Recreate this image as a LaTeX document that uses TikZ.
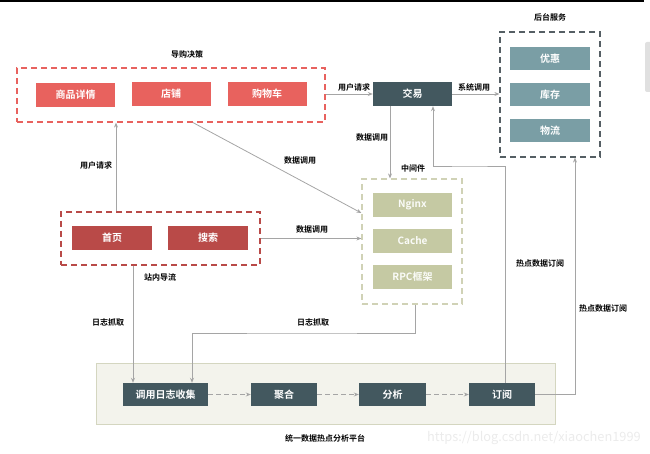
\documentclass[tikz,border=0pt]{standalone}
\usepackage{fontspec}
\setmainfont{Noto Sans CJK SC}[BoldFont={Noto Sans CJK SC Bold}]
\usepackage{tikz}
\usetikzlibrary{arrows.meta}

\definecolor{redlight}{RGB}{232,98,94}
\definecolor{reddark}{RGB}{185,74,72}
\definecolor{slate}{RGB}{67,88,95}
\definecolor{teal}{RGB}{122,158,165}
\definecolor{framegray}{RGB}{85,95,100}
\definecolor{olive}{RGB}{197,201,163}
\definecolor{oliveline}{RGB}{208,210,182}
\definecolor{platfill}{RGB}{243,243,236}
\definecolor{platline}{RGB}{212,214,192}
\definecolor{arrowgray}{RGB}{165,165,165}

\begin{document}
\begin{tikzpicture}[x=1pt,y=-1pt,
        box/.style={minimum width=79pt,minimum height=24pt,inner sep=0pt,text=white,font=\fontsize{10}{10}\selectfont\bfseries},
        redbox/.style={box,fill=redlight},
        homebox/.style={box,fill=reddark},
        slatebox/.style={box,fill=slate},
        tealbox/.style={box,fill=teal,minimum width=80pt,minimum height=23pt},
        olivebox/.style={box,fill=olive,text=white!92!olive},
        platbox/.style={box,fill=slate,minimum height=23pt,minimum width=66pt},
        frame/.style={dashed,dash pattern=on 6pt off 4pt,line width=1.2pt,inner sep=0pt},
        lbl/.style={font=\fontsize{8}{8}\selectfont\bfseries},
        arr/.style={draw=arrowgray,line width=0.8pt,-{Stealth[length=5pt,width=4pt]}}]
        \useasboundingbox (0,0) rectangle (650,454);
        \fill[black] (0,0) rectangle (644,2.5);
        \fill[black!12,rounded corners=2pt] (645,42) rectangle (652,92);

        % groups
        \node[frame,draw=redlight,minimum width=308pt,minimum height=54pt] (guide) at (171,95) {};
        \node[frame,draw=reddark,minimum width=199pt,minimum height=53pt] (homeframe) at (160.5,238.5) {};
        \node[frame,draw=framegray,minimum width=100pt,minimum height=125pt] (backend) at (550,94.5) {};
        \node[frame,draw=oliveline,minimum width=100pt,minimum height=125pt] (mw) at (412,241.5) {};
        \node[draw=platline,fill=platfill,line width=1pt,minimum width=459pt,minimum height=61pt,inner sep=0pt] (plat) at (325.5,393.5) {};

        \node[lbl] (guidetitle) at (187,54) {导购决策};
        \node[lbl] (backtitle) at (550,17) {后台服务};
        \node[lbl] (mwtitle) at (413,168) {中间件};
        \node[lbl] (plattitle) at (325,438) {统一数据热点分析平台};

        % boxes
        \node[redbox] (detail) at (75.5,95) {商品详情};
        \node[redbox] (shop) at (171,94) {店铺};
        \node[redbox] (cart) at (267,94) {购物车};
        \node[slatebox] (trade) at (412.5,94) {交易};
        \node[tealbox] (coupon) at (550,58.5) {优惠};
        \node[tealbox] (stock) at (550,94.5) {库存};
        \node[tealbox] (logistics) at (550,130.5) {物流};
        \node[olivebox] (nginx) at (412.5,205) {Nginx};
        \node[olivebox] (cache) at (412.5,241) {Cache};
        \node[olivebox] (rpc) at (412.5,277) {RPC框架};
        \node[homebox,minimum width=80pt] (home) at (112,238) {首页};
        \node[homebox,minimum width=80pt] (search) at (208,238) {搜索};
        \node[platbox,minimum width=85pt] (collect) at (165.5,394.5) {调用日志收集};
        \node[platbox] (merge) at (284,394.5) {聚合};
        \node[platbox,minimum width=67pt] (analyse) at (392.5,394.5) {分析};
        \node[platbox] (subscribe) at (502,394.5) {订阅};

        % connectors
        \draw[arr] (guide.east |- trade.west) -- (trade.west);
        \node[lbl] (req1) at (354,87) {用户请求};
        \draw[arr] (trade.east) -- (trade.east -| backend.west);
        \node[lbl] (sys) at (474,87) {系统调用};
        \draw[arr] ([xshift=-22.5pt]trade.south) -- ([xshift=-22.5pt]trade.south |- mw.north);
        \node[lbl] (data1) at (372,137) {数据调用};
        \draw[arr] ([xshift=22pt]guide.south) -- ([yshift=28.5pt]mw.west);
        \node[lbl] (data2) at (300,160) {数据调用};
        \draw[arr] ([xshift=4pt]home.north |- homeframe.north) -- ([xshift=4pt]home.north |- guide.south);
        \node[lbl] (req2) at (96,165) {用户请求};
        \draw[arr] (homeframe.east) -- (homeframe.east -| mw.west);
        \node[lbl] (data3) at (312,229) {数据调用};
        \node[lbl] (flow) at (160,277) {站内导流};
        \draw[arr] ([xshift=-32.5pt]collect.north |- homeframe.south) -- ([xshift=-32.5pt]collect.north);
        \node[lbl] (log1) at (108,322) {日志抓取};
        \draw[arr] ([xshift=3pt]mw.south) |- (300,333) -| ([xshift=26.5pt]collect.north);
        \node[lbl] (log2) at (313,322) {日志抓取};
        \draw[arr,dashed,dash pattern=on 5pt off 3pt] (collect) -- (merge);
        \draw[arr,dashed,dash pattern=on 5pt off 3pt] (merge) -- (analyse);
        \draw[arr,dashed,dash pattern=on 5pt off 3pt] (analyse) -- (subscribe);
        \draw[arr] ([xshift=3.5pt]subscribe.north) |- (470,166) -| ([xshift=20.5pt]trade.south);
        \node[lbl] (hot1) at (540,263) {热点数据订阅};
        \draw[arr] (subscribe.east) -| ([xshift=25pt]backend.south);
        \node[lbl] (hot2) at (603,308) {热点数据订阅};

        \node[text=black!8,font=\fontsize{12.8}{12.8}\selectfont] (mark) at (534,438) {https://blog.csdn.net/xiaochen1999};
    \end{tikzpicture}
\end{document}
